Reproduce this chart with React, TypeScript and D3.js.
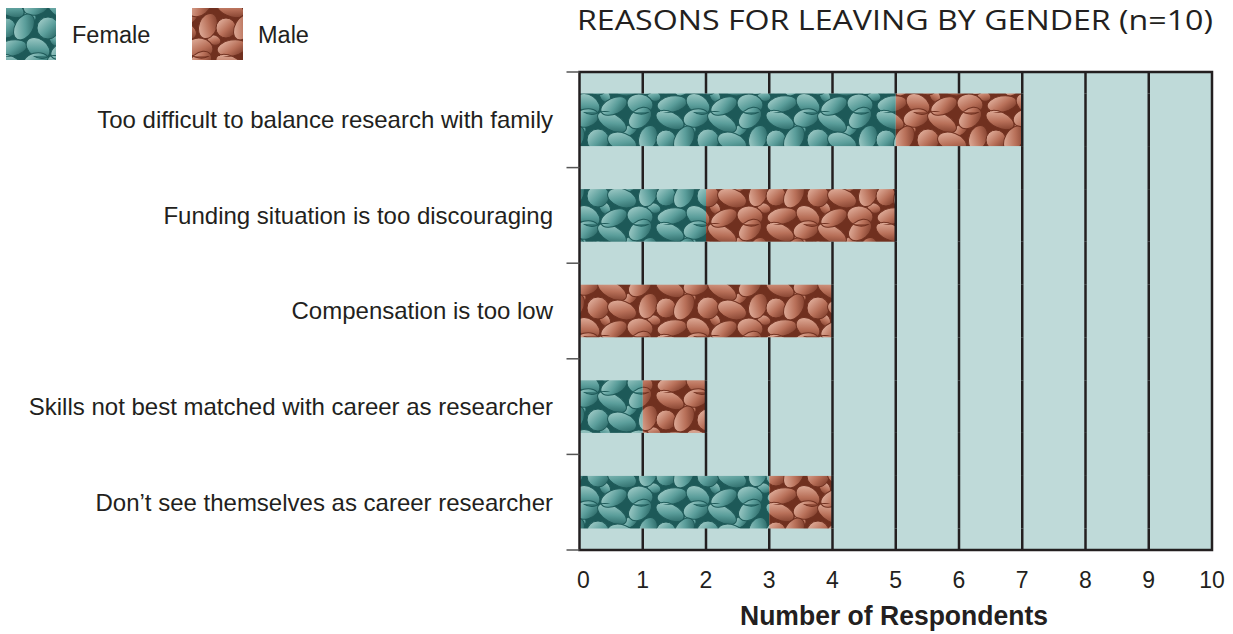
import React from "react";
import * as d3 from "d3";

const categories = [
  "Too difficult to balance research with family",
  "Funding situation is too discouraging",
  "Compensation is too low",
  "Skills not best matched with career as researcher",
  "Don\u2019t see themselves as career researcher",
];
const femaleValues = [5, 2, 0, 1, 3];
const maleValues = [2, 3, 4, 1, 1];
const xTickValues = [0, 1, 2, 3, 4, 5, 6, 7, 8, 9, 10];
const seriesNames = ["Female", "Male"];

// decorative seed shapes for the texture pattern: cx, cy, rx, ry, rotation
const SEEDS: number[][] = [
  [30, 16, 7, 5, 45], [80, 18, 8, 5, -30], [55, 40, 7, 5, 60], [104, 40, 7, 5, 20],
  [10, 8, 15, 8, 25], [36, 6, 13, 9, -15], [62, 10, 16, 8, 30], [90, 6, 13, 9, -40],
  [6, 28, 10, 10, 0], [24, 27, 14, 9, -60], [48, 28, 11, 11, 0], [72, 30, 15, 9, 20], [98, 26, 13, 9, -70],
  [12, 48, 15, 8, -10], [38, 48, 13, 9, 35], [64, 50, 14, 8, -25], [90, 48, 13, 10, 10],
];

function SeedPattern({ id, dark, mid, light }: { id: string; dark: string; mid: string; light: string }) {
  const W = 110, H = 56;
  const shifts = [[0, 0], [-W, 0], [W, 0], [0, -H], [0, H]];
  return (
    <>
      <linearGradient id={id + "-g"} x1="0" y1="0" x2="1" y2="1">
        <stop offset="0" stopColor={light} />
        <stop offset="0.55" stopColor={mid} />
        <stop offset="1" stopColor={dark} />
      </linearGradient>
      <pattern id={id} patternUnits="userSpaceOnUse" width={W} height={H}>
        <rect width={W} height={H} fill={dark} />
        {shifts.map(([dx, dy], k) =>
          SEEDS.map((s, i) => (
            <ellipse
              key={k + "-" + i}
              cx={s[0] + dx}
              cy={s[1] + dy}
              rx={s[2]}
              ry={s[3]}
              transform={`rotate(${s[4]} ${s[0] + dx} ${s[1] + dy})`}
              fill={`url(#${id}-g)`}
              stroke={dark}
              strokeWidth={1}
            />
          ))
        )}
      </pattern>
    </>
  );
}

export default function App() {
  const left = 579.5, right = 1212, top = 72, bottom = 550;
  const x = d3.scaleLinear().domain([0, 10]).range([left, right]);
  const y = d3.scaleBand<string>().domain(categories).range([top, bottom]).paddingInner(0.45).paddingOuter(0.225);
  const bandStep = (bottom - top) / categories.length;
  const boundaries = d3.range(categories.length + 1).map((i) => top + i * bandStep);
  const textColor = "#231f20";
  const font = "'Liberation Sans', Arial, sans-serif";
  const total = (i: number) => femaleValues[i] + maleValues[i];

  return (
    <svg width={1233} height={634} style={{ position: "absolute", left: 0, top: 0 }}>
      <defs>
        <SeedPattern id="femaleTex" dark="#1d5958" mid="#5a9d9a" light="#b0d6d2" />
        <SeedPattern id="maleTex" dark="#70301f" mid="#b87059" light="#ebbfad" />
      </defs>

      {/* legend */}
      <rect x={6} y={8} width={50} height={52} fill="url(#femaleTex)" />
      <text x={72} y={43} fontFamily={font} fontSize={23.5} fill={textColor}>{seriesNames[0]}</text>
      <rect x={192} y={8} width={51} height={52} fill="url(#maleTex)" />
      <text x={258} y={43} fontFamily={font} fontSize={23.5} fill={textColor}>{seriesNames[1]}</text>

      {/* title */}
      <text x={577} y={30} fontFamily="'Open Sans', sans-serif" fontSize={28} fill={textColor}
        textLength={636} lengthAdjust="spacingAndGlyphs">REASONS FOR LEAVING BY GENDER (n=10)</text>

      {/* plot background */}
      <rect x={left} y={top} width={right - left} height={bottom - top} fill="#bfdad9" />

      {/* bars */}
      {categories.map((c, i) => {
        const y0 = y(c)!;
        const h = y.bandwidth();
        const f = femaleValues[i];
        const m = maleValues[i];
        return (
          <g key={c}>
            {f > 0 && <rect x={x(0)} y={y0} width={x(f) - x(0)} height={h} fill="url(#femaleTex)" />}
            {m > 0 && <rect x={x(f)} y={y0} width={x(f + m) - x(f)} height={h} fill="url(#maleTex)" />}
          </g>
        );
      })}

      {/* vertical grid lines (hidden behind bars) */}
      {xTickValues.filter((t) => t > 0 && t < 10).map((t) => (
        <g key={t}>
          {categories.map((c, i) => {
            const y0 = y(c)!;
            const h = y.bandwidth();
            const covered = t < total(i);
            const segTop = i === 0 ? top : y(categories[i - 1])! + y.bandwidth();
            return (
              <g key={c}>
                <line x1={x(t)} x2={x(t)} y1={segTop} y2={y0} stroke={textColor} strokeWidth={2.5} />
                {!covered && <line x1={x(t)} x2={x(t)} y1={y0} y2={y0 + h} stroke={textColor} strokeWidth={2.5} />}
                {i === categories.length - 1 && (
                  <line x1={x(t)} x2={x(t)} y1={y0 + h} y2={bottom} stroke={textColor} strokeWidth={2.5} />
                )}
              </g>
            );
          })}
        </g>
      ))}

      {/* border */}
      <rect x={left} y={top} width={right - left} height={bottom - top} fill="none" stroke={textColor} strokeWidth={2.5} />

      {/* left axis ticks */}
      {boundaries.map((b, i) => (
        <line key={i} x1={left - 13} x2={left} y1={b} y2={b} stroke="#555" strokeWidth={1.5} />
      ))}

      {/* category labels */}
      {categories.map((c) => (
        <text key={c} x={553} y={y(c)! + y.bandwidth() / 2} dy="0.35em" textAnchor="end"
          fontFamily={font} fontSize={24} fill={textColor}>{c}</text>
      ))}

      {/* x tick labels */}
      {xTickValues.map((t) => (
        <text key={t} x={x(t) + (t === 0 ? 4 : 0)} y={588} textAnchor="middle" fontFamily={font} fontSize={23} fill={textColor}>{t}</text>
      ))}

      {/* axis title */}
      <text x={894} y={625} textAnchor="middle" fontFamily={font} fontSize={27} fontWeight="bold" fill={textColor}
        textLength={308} lengthAdjust="spacingAndGlyphs">
        Number of Respondents
      </text>
    </svg>
  );
}
